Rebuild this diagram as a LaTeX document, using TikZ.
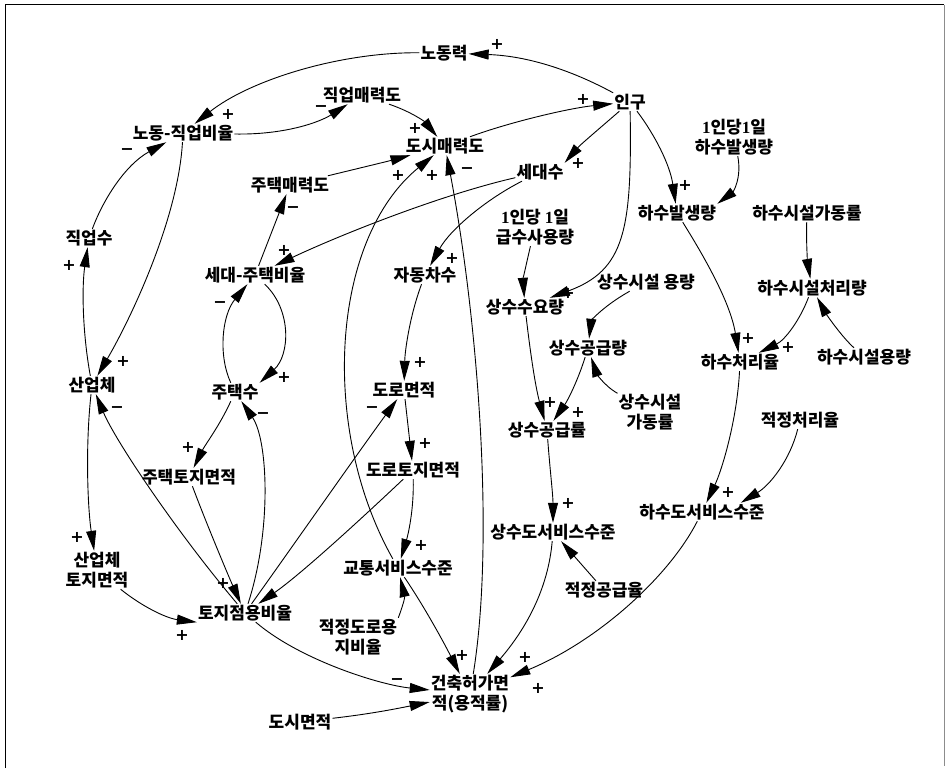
\documentclass[tikz,border=0pt]{standalone}
\usepackage{fontspec}
\usetikzlibrary{arrows.meta}
\newfontfamily\krf{Noto Sans CJK KR}
\newfontfamily\sgn{DejaVu Sans}
\newfontfamily\dig{Liberation Serif}
\begin{document}
\begin{tikzpicture}[x=1pt,y=-1pt,
  lbl/.style={font=\krf\bfseries\fontsize{17}{20}\selectfont, inner sep=1pt, align=center},
  pm/.style={font=\sgn\bfseries\fontsize{16}{16}\selectfont, inner sep=0pt},
  arr/.style={draw, line width=0.9pt, -{Triangle[length=20pt,width=10pt]}}]
\useasboundingbox (0,0) rectangle (948,770);
% frame
\draw[line width=1pt] (5,768) -- (5,5) -- (944,5);
\draw[line width=0.6pt, black!45] (944,5) -- (944,766);

% variables
\node[lbl] (nodong) at (444,53) {노동력};
\node[lbl] (jikmae) at (362,95) {직업매력도};
\node[lbl] (nojik) at (183,133) {노동-직업비율};
\node[lbl] (dosimae) at (445,146) {도시매력도};
\node[lbl] (ingu) at (630,102) {인구};
\node[lbl] (sedae) at (540,172) {세대수};
\node[lbl] (jutaekmae) at (290,185) {주택매력도};
\node[lbl] (geupsu) at (535,227) {{\dig 1}인당 {\dig 1}일\\급수사용량};
\node[lbl] (hasuper) at (734,137) {{\dig 1}인당{\dig 1}일\\하수발생량};
\node[lbl] (hasubal) at (677,213) {하수발생량};
\node[lbl] (hasuga) at (807,213) {하수시설가동률};
\node[lbl] (sejuratio) at (255,275) {세대-주택비율};
\node[lbl] (car) at (425,275) {자동차수};
\node[lbl] (jobs) at (89,238) {직업수};
\node[lbl] (sangsuyo) at (525,307) {상수수요량};
\node[lbl] (sangsiyong) at (646,282) {상수시설 용량};
\node[lbl] (hasuchuri) at (812,288) {하수시설처리량};
\node[lbl] (sanggong) at (588,348) {상수공급량};
\node[lbl] (hasurate) at (740,362) {하수처리율};
\node[lbl] (hasuyong) at (864,357) {하수시설용량};
\node[lbl] (industry) at (92,385) {산업체};
\node[lbl] (houses) at (235,392) {주택수};
\node[lbl] (road) at (404,390) {도로면적};
\node[lbl] (sangga) at (650,412) {상수시설\\가동률};
\node[lbl] (sangrate) at (547,430) {상수공급률};
\node[lbl] (jeokcheo) at (800,420) {적정처리율};
\node[lbl] (houseland) at (189,477) {주택토지면적};
\node[lbl] (roadland) at (413,470) {도로토지면적};
\node[lbl] (sangsvc) at (553,532) {상수도서비스수준};
\node[lbl] (hasvc) at (702,512) {하수도서비스수준};
\node[lbl] (indland) at (97,570) {산업체\\토지면적};
\node[lbl] (landuse) at (245,613) {토지점용비율};
\node[lbl] (traffic) at (398,568) {교통서비스수준};
\node[lbl] (jeokgong) at (604,590) {적정공급율};
\node[lbl] (jeokroad) at (358,637) {적정도로용\\지비율};
\node[lbl] (far) at (470,694) {건축허가면\\적(용적률)};
\node[lbl] (cityarea) at (300,722) {도시면적};

% causal links
\draw[arr] (ingu) .. controls (575,72) and (530,56) .. (nodong);
\draw[arr] (nodong) .. controls (340,52) and (250,80) .. (nojik);
\draw[arr] (nojik) .. controls (285,135) and (320,122) .. (jikmae);
\draw[arr] (jikmae) .. controls (412,112) and (425,122) .. (dosimae);
\draw[arr] (jutaekmae) .. controls (360,168) and (385,162) .. (dosimae);
\draw[arr] (dosimae) .. controls (510,122) and (570,108) .. (ingu);
\draw[arr] (ingu) .. controls (600,128) and (580,145) .. (sedae.north east);
\draw[arr] (sedae) .. controls (440,195) and (340,235) .. (sejuratio);
\draw[arr] (sedae) .. controls (485,200) and (450,230) .. (car);
\draw[arr] (sejuratio) -- (jutaekmae);
\draw[arr] (nojik) .. controls (178,220) and (130,320) .. (industry);
\draw[arr] (industry) .. controls (82,330) and (82,285) .. (jobs);
\draw[arr] (jobs) .. controls (103,200) and (125,165) .. (nojik);
\draw[arr] (sejuratio) .. controls (292,310) and (290,355) .. (houses.north east);
\draw[arr] (houses) .. controls (218,355) and (222,315) .. (sejuratio);
\draw[arr] (houses) .. controls (220,425) and (205,445) .. (houseland);
\draw[arr] (landuse) .. controls (272,530) and (268,440) .. (houses);
\draw[arr] (industry) .. controls (85,450) and (88,510) .. (indland);
\draw[arr] (landuse) .. controls (175,530) and (115,440) .. (industry);
\draw[arr] (houseland) .. controls (205,520) and (228,575) .. (landuse);
\draw[arr] (indland) .. controls (140,605) and (165,618) .. (landuse.south west);
\draw[arr] (roadland) .. controls (360,520) and (300,575) .. (landuse);
\draw[arr] (landuse) .. controls (290,550) and (360,450) .. (road);
\draw[arr] (landuse) .. controls (300,660) and (380,685) .. (far);
\draw[arr] (cityarea) .. controls (370,714) and (395,709) .. (far);
\draw[arr] (car) .. controls (410,315) and (405,350) .. (road);
\draw[arr] (road) -- (roadland);
\draw[arr] (roadland) .. controls (414,510) and (408,535) .. (traffic);
\draw[arr] (traffic) .. controls (320,430) and (330,240) .. (dosimae);
\draw[arr] (far) .. controls (495,540) and (478,320) .. (dosimae);
\draw[arr] (traffic) .. controls (420,600) and (440,635) .. (far);
\draw[arr] (jeokroad.north east) .. controls (402,608) and (405,598) .. (traffic);
\draw[arr] (ingu) .. controls (632,230) and (625,270) .. (sangsuyo);
\draw[arr] (geupsu) .. controls (526,265) and (523,280) .. (sangsuyo);
\draw[arr] (ingu) .. controls (655,135) and (670,165) .. (hasubal);
\draw[arr] (hasuper) .. controls (742,178) and (733,192) .. (hasubal.north east);
\draw[arr] (hasubal) .. controls (700,250) and (730,300) .. (hasurate);
\draw[arr] (hasuga) .. controls (806,245) and (808,265) .. (hasuchuri);
\draw[arr] (hasuchuri) .. controls (800,320) and (785,340) .. (hasurate);
\draw[arr] (hasuyong) .. controls (840,335) and (825,312) .. (hasuchuri);
\draw[arr] (hasurate) .. controls (737,420) and (722,470) .. (hasvc);
\draw[arr] (jeokcheo) .. controls (790,460) and (770,485) .. ([xshift=-25pt]hasvc.north east);
\draw[arr] (hasvc) .. controls (670,575) and (600,640) .. (far);
\draw[arr] (sangsvc) .. controls (548,590) and (525,630) .. (far);
\draw[arr] (jeokgong) -- (sangsvc);
\draw[arr] (sangrate) .. controls (550,470) and (553,495) .. (sangsvc);
\draw[arr] (sangsuyo) .. controls (530,350) and (535,385) .. (sangrate);
\draw[arr] (sanggong) .. controls (578,380) and (568,400) .. (sangrate);
\draw[arr] (sangsiyong) .. controls (600,308) and (591,322) .. (sanggong);
\draw[arr] (sangga) .. controls (603,385) and (596,372) .. (sanggong);

% link polarities
\node[pm] (p1) at (497,44) {+};
\node[pm] (p2) at (228,114) {+};
\node[pm] (m3) at (321,109) {−};
\node[pm] (p4) at (415,128) {+};
\node[pm] (p5) at (398,175) {+};
\node[pm] (p6) at (583,99) {+};
\node[pm] (p7) at (578,163) {+};
\node[pm] (p8) at (284,250) {+};
\node[pm] (p9) at (452,258) {+};
\node[pm] (m10) at (293,210) {−};
\node[pm] (p11) at (123,361) {+};
\node[pm] (p12) at (69,265) {+};
\node[pm] (m13) at (127,152) {−};
\node[pm] (p14) at (284,377) {+};
\node[pm] (m15) at (220,305) {−};
\node[pm] (p16) at (188,447) {+};
\node[pm] (m17) at (263,416) {−};
\node[pm] (p18) at (77,537) {+};
\node[pm] (m19) at (117,410) {−};
\node[pm] (p20) at (223,583) {+};
\node[pm] (p21) at (182,635) {+};
\node[pm] (m23) at (372,410) {−};
\node[pm] (m24) at (397,682) {−};
\node[pm] (p26) at (420,362) {+};
\node[pm] (p27) at (425,443) {+};
\node[pm] (p28) at (421,545) {+};
\node[pm] (p29) at (432,175) {+};
\node[pm] (m30) at (467,171) {−};
\node[pm] (p31) at (462,655) {+};
\node[pm] (p33) at (568,293) {+};
\node[pm] (p35) at (685,185) {+};
\node[pm] (p37) at (748,338) {+};
\node[pm] (p39) at (788,347) {+};
\node[pm] (p41) at (728,492) {+};
\node[pm] (p43) at (538,688) {+};
\node[pm] (p44) at (525,657) {+};
\node[pm] (p46) at (568,503) {+};
\node[pm] (p47) at (550,402) {+};
\node[pm] (p48) at (578,412) {+};
\end{tikzpicture}
\end{document}
